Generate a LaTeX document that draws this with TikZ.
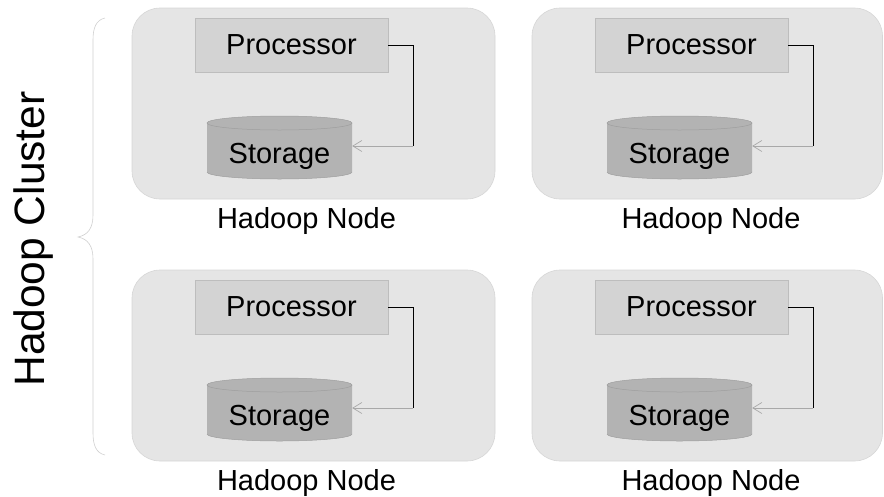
\documentclass[tikz,border=0pt]{standalone}
\usepackage{fontspec}
\setmainfont{Liberation Sans}
\usetikzlibrary{arrows.meta}
\definecolor{nodefill}{HTML}{E5E5E5}
\definecolor{nodeline}{HTML}{D6D6D6}
\definecolor{procfill}{HTML}{D3D3D3}
\definecolor{procline}{HTML}{BDBDBD}
\definecolor{storfill}{HTML}{B3B3B3}
\definecolor{storline}{HTML}{9E9E9E}
\definecolor{braceline}{HTML}{D0D0D0}
\definecolor{arrowline}{HTML}{A8A8A8}
\tikzset{
  hnode/.style={fill=nodefill, draw=nodeline, line width=0.6pt, rounded corners=28pt},
  procbox/.style={rectangle, fill=procfill, draw=procline, line width=0.6pt,
    minimum width=193pt, minimum height=54pt, inner sep=0pt,
    font=\fontsize{29}{34}\selectfont},
  storarea/.style={rectangle, minimum width=145pt, minimum height=63pt, inner sep=0pt},
  lbl/.style={font=\fontsize{29}{34}\selectfont, anchor=base, inner sep=0pt},
  link/.style={draw=black, line width=1pt},
  linkarrow/.style={draw=arrowline, line width=0.7pt, -{Straight Barb[length=9pt, width=11pt]}},
}
\begin{document}
\begin{tikzpicture}[x=1pt, y=-1pt]
\useasboundingbox (0,0) rectangle (884,496);
% brace
\draw[braceline, line width=0.6pt] (105,18) .. controls (96,20) and (93,28) .. (93,40)
  -- (93,215) .. controls (93,228) and (88,235) .. (78,237)
  .. controls (88,239) and (93,246) .. (93,259)
  -- (93,433) .. controls (93,445) and (96,453) .. (105,455);
\node[rotate=90, anchor=base, inner sep=0pt, font=\fontsize{42.5}{50}\selectfont] (cluster) at (45,239) {Hadoop Cluster};
\foreach \i/\dx/\dy/\w/\lx in {1/0/0/363/306.5, 2/400/0/350.5/711, 3/0/262/363/306.5, 4/400/262/350.5/711}{
  \begin{scope}[shift={(\dx,\dy)}]
    \draw[hnode] (132,8) rectangle ++(\w,191);
    \node[procbox] (proc\i) at (291.5,45) {Processor};
    % cylinder
    \fill[storfill] (207,123) -- (207,172) arc[start angle=180, end angle=360, x radius=72.5pt, y radius=7pt] -- (352,123) -- cycle;
    \draw[storline, line width=0.5pt] (207,172) arc[start angle=180, end angle=360, x radius=72.5pt, y radius=7pt];
    \filldraw[fill=storfill, draw=storline, line width=0.5pt] (279.5,123) ellipse[x radius=72.5pt, y radius=7pt];
    \node[storarea] (stor\i) at (279.5,146) {};
    \node[lbl] (stxt\i) at (279.5,163) {Storage};
    \draw[link] (proc\i.east) -- ++(24.7,0) coordinate (k\i) -- (k\i |- stor\i.east);
    \draw[linkarrow] (k\i |- stor\i.east) -- (stor\i.east);
  \end{scope}
  \node[lbl] (hn\i) at (\lx,228+\dy) {Hadoop Node};
}
\end{tikzpicture}
\end{document}
